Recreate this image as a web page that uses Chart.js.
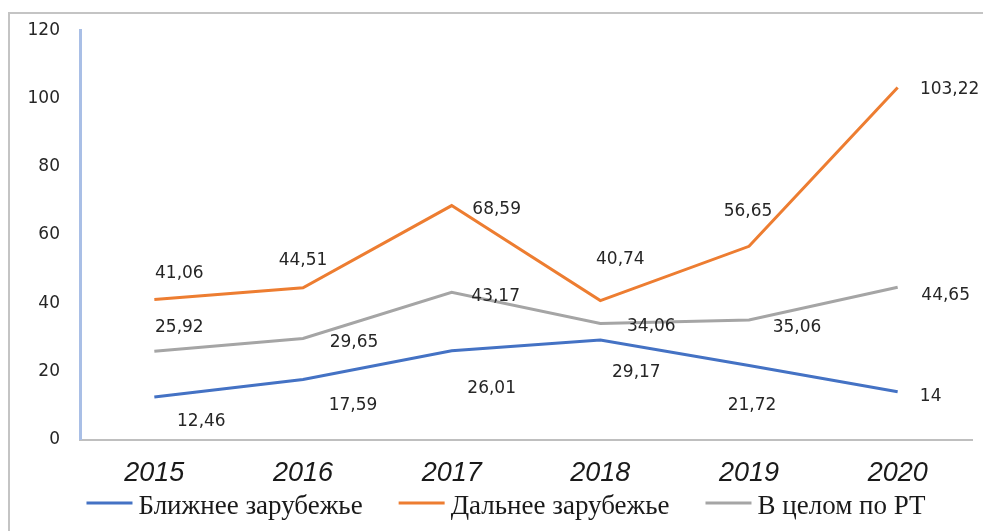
<!DOCTYPE html>
<html lang="ru">
<head>
<meta charset="utf-8">
<title>Ближнее и дальнее зарубежье</title>
<script src="https://cdn.jsdelivr.net/npm/chart.js@4/dist/chart.umd.min.js"></script>
<style>
  html, body { margin: 0; padding: 0; background: #fff; }
  .wrap { position: relative; width: 983px; height: 531px; overflow: hidden; }
  .frame {
    position: absolute; left: 8px; top: 12px; width: 1000px; height: 600px;
    border-left: 2px solid #c4c4c4; border-top: 2px solid #c4c4c4;
  }
  canvas { position: absolute; left: 0; top: 0; }
</style>
</head>
<body>
<div class="wrap">
  <div class="frame"></div>
  <canvas id="grafik" width="983" height="531"></canvas>
</div>
<script>
const years = ['2015', '2016', '2017', '2018', '2019', '2020'];
const blizhnee = [12.46, 17.59, 26.01, 29.17, 21.72, 14];
const dalnee = [41.06, 44.51, 68.59, 40.74, 56.65, 103.22];
const vCelom = [25.92, 29.65, 43.17, 34.06, 35.06, 44.65];
const yTicks = ['0', '20', '40', '60', '80', '100', '120'];

// сдвиг подписей значений относительно точки, [dx, dy] по каждой серии
const labelShift = [
    [[47, 24], [50, 26], [40, 38], [36, 32], [3, 40], [33, 5]],
    [[25, -26], [0, -27], [45, 4], [20, -41], [-1, -35], [52, 2]],
    [[25, -24], [51, 4], [44, 4], [51, 3], [48, 8], [48, 8]]
];

const fmt = v => String(v).replace('.', ',');

const valueLabels = {
    id: 'valueLabels',
    afterDatasetsDraw(chart) {
        const ctx = chart.ctx;
        ctx.save();
        ctx.font = '17px "DejaVu Sans", Verdana, sans-serif';
        ctx.fillStyle = '#262626';
        ctx.textAlign = 'center';
        ctx.textBaseline = 'middle';
        chart.data.datasets.forEach((ds, di) => {
            chart.getDatasetMeta(di).data.forEach((pt, i) => {
                const [dx, dy] = labelShift[di][i];
                ctx.fillText(fmt(ds.data[i]), pt.x + dx, pt.y + dy);
            });
        });
        ctx.restore();
    }
};

// легенда снизу: короткая линия и подпись, всё по центру
const bottomLegend = {
    id: 'bottomLegend',
    afterDraw(chart) {
        const ctx = chart.ctx;
        const lineW = 46, gap = 6, itemGap = 36, y = 507, cx = 506;
        ctx.save();
        ctx.font = '27px "Liberation Serif", "Times New Roman", serif';
        ctx.textBaseline = 'middle';
        ctx.textAlign = 'left';
        const items = chart.data.datasets.map(ds => ({
            text: ds.label, color: ds.borderColor, w: ctx.measureText(ds.label).width
        }));
        const total = items.reduce((s, it) => s + lineW + gap + it.w, 0) + itemGap * (items.length - 1);
        let x = cx - total / 2;
        items.forEach(it => {
            ctx.strokeStyle = it.color;
            ctx.lineWidth = 3;
            ctx.beginPath();
            ctx.moveTo(x, y - 4);
            ctx.lineTo(x + lineW, y - 4);
            ctx.stroke();
            ctx.fillStyle = '#1a1a1a';
            ctx.fillText(it.text, x + lineW + gap, y);
            x += lineW + gap + it.w + itemGap;
        });
        ctx.restore();
    }
};

const line = (label, data, color) => ({
    label,
    data,
    borderColor: color,
    backgroundColor: color,
    borderWidth: 3,
    pointRadius: 0,
    tension: 0
});

new Chart(document.getElementById('grafik'), {
    type: 'line',
    data: {
        labels: years,
        datasets: [
            line('Ближнее зарубежье', blizhnee, '#4472c4'),
            line('Дальнее зарубежье', dalnee, '#ed7d31'),
            line('В целом по РТ', vCelom, '#a5a5a5')
        ]
    },
    options: {
        responsive: false,
        animation: false,
        layout: { padding: { left: 16, right: 11, top: 28, bottom: 23 } },
        plugins: {
            tooltip: { enabled: false },
            legend: { display: false }
        },
        scales: {
            x: {
                offset: true,
                grid: { display: false, drawTicks: false },
                border: { display: true, color: '#bfbfbf', width: 2 },
                ticks: {
                    padding: 18,
                    color: '#1a1a1a',
                    font: { family: '"Liberation Sans", Arial, sans-serif', size: 27, style: 'italic' }
                }
            },
            y: {
                min: 0,
                max: 120,
                afterFit: scale => { scale.width = 64; },
                grid: { display: false, drawTicks: false },
                border: { display: true, color: '#a9bfe6', width: 3 },
                ticks: {
                    stepSize: 20,
                    padding: 20,
                    color: '#262626',
                    font: { family: '"DejaVu Sans", Verdana, sans-serif', size: 17 },
                    callback: (v, i) => yTicks[i]
                }
            }
        }
    },
    plugins: [valueLabels, bottomLegend]
});
</script>
</body>
</html>
